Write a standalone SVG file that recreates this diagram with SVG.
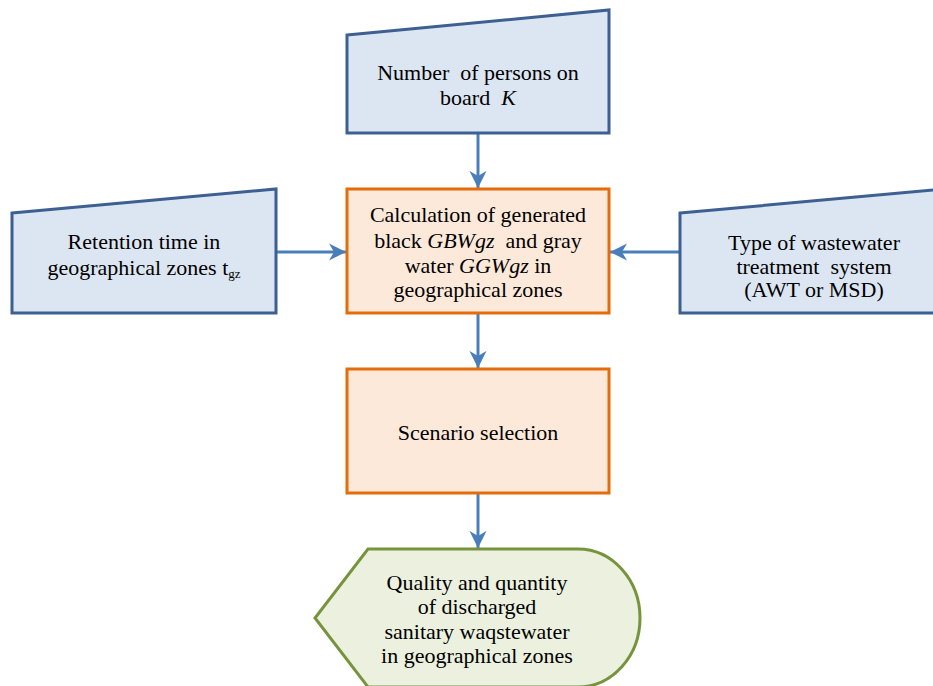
<svg xmlns="http://www.w3.org/2000/svg" width="933" height="686" viewBox="0 0 933 686">
<style>
.in{fill:#dce6f2;stroke:#3d5f92;stroke-width:3}
.pr{fill:#fde9d9;stroke:#e46c0a;stroke-width:3}
.out{fill:#ebf1de;stroke:#77933c;stroke-width:3}
text{font-family:'Liberation Serif','DejaVu Serif',serif;font-size:22px;fill:#000;text-anchor:middle}
.c{stroke:#4a7ebb;stroke-width:3;fill:none;marker-end:url(#ah)}
</style>
<defs>
<marker id="ah" viewBox="0 0 10 10" refX="10" refY="5" markerWidth="5.7" markerHeight="5.7" orient="auto" markerUnits="strokeWidth">
<path d="M0,0 L10,5 L0,10 L3,5 z" fill="#4a7ebb"/>
</marker>
</defs>
<rect width="933" height="686" fill="#fff"/>
<g id="connectors">
<line class="c" x1="478" y1="134" x2="478" y2="188"/>
<line class="c" x1="276" y1="252" x2="346" y2="252"/>
<line class="c" x1="680" y1="252" x2="610" y2="252"/>
<line class="c" x1="478" y1="314" x2="478" y2="368"/>
<line class="c" x1="478" y1="494" x2="478" y2="548"/>
</g>
<g id="persons">
<path class="in" d="M347,35 L609,10 L609,133 L347,133 Z"/>
<text x="478" y="80" xml:space="preserve">Number  of persons on</text>
<text x="478" y="105" xml:space="preserve">board  <tspan font-style="italic">K</tspan></text>
</g>
<g id="retention">
<path class="in" d="M12,213 L276,189 L276,313 L12,313 Z"/>
<text x="144" y="249">Retention time in</text>
<text x="144" y="275">geographical zones t<tspan font-size="13" dy="3">gz</tspan></text>
</g>
<g id="type">
<path class="in" d="M680,213 L945,189 L945,313 L680,313 Z"/>
<text x="814" y="250">Type of wastewater</text>
<text x="814" y="274" xml:space="preserve">treatment  system</text>
<text x="814" y="297">(AWT or MSD)</text>
</g>
<g id="calc">
<rect class="pr" x="347" y="189" width="262" height="124"/>
<text x="478" y="222">Calculation of generated</text>
<text x="478" y="248" xml:space="preserve">black <tspan font-style="italic">GBWgz</tspan>  and gray</text>
<text x="478" y="273">water <tspan font-style="italic">GGWgz</tspan> in</text>
<text x="478" y="297">geographical zones</text>
</g>
<g id="scenario">
<rect class="pr" x="347" y="369" width="262" height="124"/>
<text x="478" y="440">Scenario selection</text>
</g>
<g id="output">
<path class="out" d="M368,549 L578,549 A62,69 0 0 1 578,687 L368,687 L315,618 Z"/>
<text x="477" y="590">Quality and quantity</text>
<text x="477" y="614">of discharged</text>
<text x="477" y="639">sanitary waqstewater</text>
<text x="477" y="663">in geographical zones</text>
</g>
</svg>
